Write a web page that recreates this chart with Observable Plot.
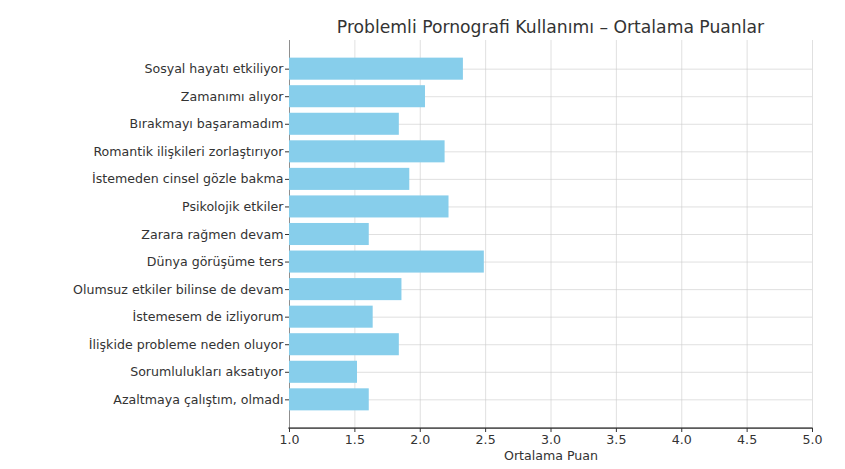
<!DOCTYPE html>
<html>
<head>
<meta charset="utf-8">
<script src="https://cdn.jsdelivr.net/npm/d3@7"></script>
<script src="https://cdn.jsdelivr.net/npm/@observablehq/plot@0.6"></script>
<style>
  html, body { margin: 0; padding: 0; background: #fff; }
  #title { height: 36px; width: 845px; position: relative; font-family: "DejaVu Sans", sans-serif; }
  #title span { position: absolute; left: 289px; width: 523px; top: 17px; text-align: center; font-size: 17.2px; color: #333; white-space: nowrap; }
  svg { display: block; }
</style>
</head>
<body>
<div id="title"><span>Problemli Pornografi Kullanımı – Ortalama Puanlar</span></div>
<div id="chart"></div>
<script>
const items = [
  "Sosyal hayatı etkiliyor",
  "Zamanımı alıyor",
  "Bırakmayı başaramadım",
  "Romantik ilişkileri zorlaştırıyor",
  "İstemeden cinsel gözle bakma",
  "Psikolojik etkiler",
  "Zarara rağmen devam",
  "Dünya görüşüme ters",
  "Olumsuz etkiler bilinse de devam",
  "İstemesem de izliyorum",
  "İlişkide probleme neden oluyor",
  "Sorumlulukları aksatıyor",
  "Azaltmaya çalıştım, olmadı"
];
const scores = [2.33, 2.04, 1.84, 2.19, 1.92, 2.22, 1.61, 2.49, 1.86, 1.64, 1.84, 1.52, 1.61];
const xTicks = [1.0, 1.5, 2.0, 2.5, 3.0, 3.5, 4.0, 4.5, 5.0];

const data = items.map((item, i) => ({item, score: scores[i]}));

const chart = Plot.plot({
  width: 845,
  height: 433,
  marginLeft: 289,
  marginRight: 33,
  marginTop: 4,
  marginBottom: 41,
  style: {fontFamily: "DejaVu Sans, sans-serif", fontSize: "12.6px", color: "#333", background: "#fff"},
  x: {domain: [1, 5], ticks: xTicks, tickFormat: d3.format(".1f"), tickSize: 4, tickPadding: 3,
      label: "Ortalama Puan", labelAnchor: "center", labelArrow: "none", labelOffset: 31},
  y: {domain: items, paddingInner: 0.2, paddingOuter: 0.64, round: false, label: null, tickSize: 4, tickPadding: 2, line: true},
  marks: [
    Plot.gridX(xTicks, {stroke: "#ccc", strokeOpacity: 0.6}),
    Plot.gridY(items, {stroke: "#ccc", strokeOpacity: 0.6}),
    Plot.barX(data, {x1: 1, x2: "score", y: "item", fill: "#87CEEB"})
  ]
});
document.getElementById("chart").appendChild(chart);
// bottom spine drawn from the plot's own x scale and frame
{
  const xs = chart.scale("x");
  const yb = 433 - 41;
  d3.select(chart).append("rect")
    .attr("x", xs.apply(xTicks[0]) - 0.6)
    .attr("width", xs.apply(xTicks[xTicks.length - 1]) - xs.apply(xTicks[0]) + 1.2)
    .attr("y", yb - 0.6).attr("height", 1.4)
    .attr("fill", "#333").attr("stroke", "none");
}
</script>
</body>
</html>
